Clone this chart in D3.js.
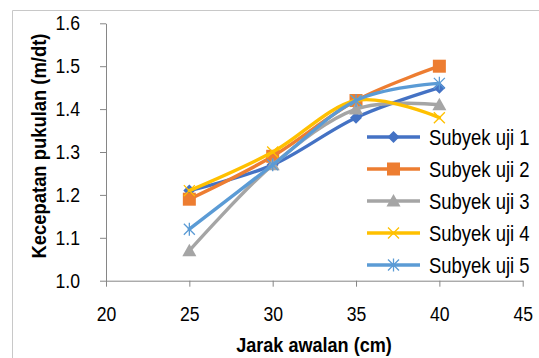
<!DOCTYPE html>
<html>
<head>
<meta charset="utf-8">
<script src="https://cdn.jsdelivr.net/npm/d3@7"></script>
<style>
  body { margin: 0; background: #fff; }
  svg { display: block; font-family: "Liberation Sans", Arial, sans-serif; }
</style>
</head>
<body>
<div id="chart"></div>
<script>
// data
const jarak = [25, 30, 35, 40];
const seriesNames = ["Subyek uji 1", "Subyek uji 2", "Subyek uji 3", "Subyek uji 4", "Subyek uji 5"];
const uji1 = [1.21, 1.27, 1.38, 1.45];
const uji2 = [1.19, 1.29, 1.42, 1.50];
const uji3 = [1.07, 1.27, 1.40, 1.41];
const uji4 = [1.21, 1.30, 1.42, 1.38];
const uji5 = [1.12, 1.27, 1.42, 1.46];
const xTicks = [20, 25, 30, 35, 40, 45];
const yTicks = [1.0, 1.1, 1.2, 1.3, 1.4, 1.5, 1.6];

const colors = ["#4472C4", "#ED7D31", "#A5A5A5", "#FFC000", "#5B9BD5"];
const symbols = ["diamond", "square", "triangle", "x", "star"];

const width = 539, height = 358;
const plot = {left: 106, right: 522.7, top: 23.3, bottom: 280.7};

const svg = d3.select("#chart").append("svg")
    .attr("width", width)
    .attr("height", height);

// squeeze text horizontally, the original uses a narrow face
function narrow(sel, f) {
    sel.each(function() {
        const w = this.getComputedTextLength();
        d3.select(this).attr("textLength", w * f).attr("lengthAdjust", "spacingAndGlyphs");
    });
}

// outer chart border (cropped)
svg.append("path")
    .attr("d", `M12.5,${height} V10.5 H${width}`)
    .attr("fill", "none")
    .attr("stroke", "#c8c8c8")
    .attr("stroke-width", 1);

const x = d3.scaleLinear().domain([20, 45]).range([plot.left, plot.right]);
const y = d3.scaleLinear().domain([1.0, 1.6]).range([plot.bottom, plot.top]);

// axes
const xAxis = svg.append("g")
    .attr("transform", `translate(0,${plot.bottom})`)
    .call(d3.axisBottom(x).tickValues(xTicks).tickSize(6).tickSizeOuter(0).tickPadding(20).tickFormat(d3.format("d")));

const yAxis = svg.append("g")
    .attr("transform", `translate(${plot.left},0)`)
    .call(d3.axisLeft(y).tickValues(yTicks).tickSize(6).tickSizeOuter(0).tickPadding(20).tickFormat(d3.format(".1f")));

[xAxis, yAxis].forEach(g => {
    g.select(".domain").attr("stroke", "#868686").attr("stroke-width", 1);
    g.selectAll(".tick line").attr("stroke", "#868686");
    g.selectAll(".tick text").attr("fill", "#000").attr("font-size", 20).attr("font-family", null)
        .call(narrow, 0.88);
});

// axis titles
svg.append("text")
    .attr("x", 314)
    .attr("y", 352)
    .attr("text-anchor", "middle")
    .attr("font-weight", "bold")
    .attr("font-size", 21)
    .text("Jarak awalan (cm)")
    .call(narrow, 0.86);

svg.append("text")
    .attr("transform", `translate(46,146) rotate(-90)`)
    .attr("text-anchor", "middle")
    .attr("font-weight", "bold")
    .attr("font-size", 20)
    .text("Kecepatan pukulan (m/dt)")
    .call(narrow, 0.92);

// series
const allSeries = [uji1, uji2, uji3, uji4, uji5].map((vals, i) => ({
    name: seriesNames[i],
    color: colors[i],
    symbol: symbols[i],
    points: vals.map((v, j) => ({x: jarak[j], y: v}))
}));

const line = d3.line()
    .x(d => x(d.x))
    .y(d => y(d.y))
    .curve(d3.curveCatmullRom.alpha(0));

function drawMarker(g, type, color) {
    if (type === "diamond") {
        g.append("path").attr("d", "M0,-6 L6,0 L0,6 L-6,0 Z").attr("fill", color);
    } else if (type === "square") {
        g.append("rect").attr("x", -6.5).attr("y", -6.5).attr("width", 13).attr("height", 13)
            .attr("fill", color);
    } else if (type === "triangle") {
        g.append("path").attr("d", "M0,-7 L7,5.5 L-7,5.5 Z").attr("fill", color);
    } else if (type === "x") {
        g.append("path").attr("d", "M-5.5,-5.5 L5.5,5.5 M-5.5,5.5 L5.5,-5.5")
            .attr("stroke", color).attr("stroke-width", 1.3).attr("fill", "none");
    } else if (type === "star") {
        g.append("path").attr("d", "M-5.5,-5.5 L5.5,5.5 M-5.5,5.5 L5.5,-5.5 M0,-6.5 L0,6.5")
            .attr("stroke", color).attr("stroke-width", 1.3).attr("fill", "none");
    }
}

allSeries.forEach(s => {
    const g = svg.append("g").attr("class", "series");
    g.append("path")
        .datum(s.points)
        .attr("d", line)
        .attr("fill", "none")
        .attr("stroke", s.color)
        .attr("stroke-width", 3.4)
        .attr("stroke-linejoin", "round")
        .attr("stroke-linecap", "round");
    g.selectAll(".pt")
        .data(s.points)
        .join("g")
        .attr("class", "pt")
        .attr("transform", d => `translate(${x(d.x)},${y(d.y)})`)
        .each(function() { drawMarker(d3.select(this), s.symbol, s.color); });
});

// legend
const legend = svg.append("g").attr("transform", "translate(367,137)");
allSeries.forEach((s, i) => {
    const row = legend.append("g").attr("transform", `translate(0,${i * 32})`);
    row.append("line")
        .attr("x1", 0).attr("x2", 53)
        .attr("stroke", s.color)
        .attr("stroke-width", 3.4);
    drawMarker(row.append("g").attr("transform", "translate(26.5,0)"), s.symbol, s.color);
    row.append("text")
        .attr("transform", "translate(62,0) scale(0.84,1)")
        .attr("dy", "0.36em")
        .attr("font-size", 22)
        .text(s.name);
});
</script>
</body>
</html>
